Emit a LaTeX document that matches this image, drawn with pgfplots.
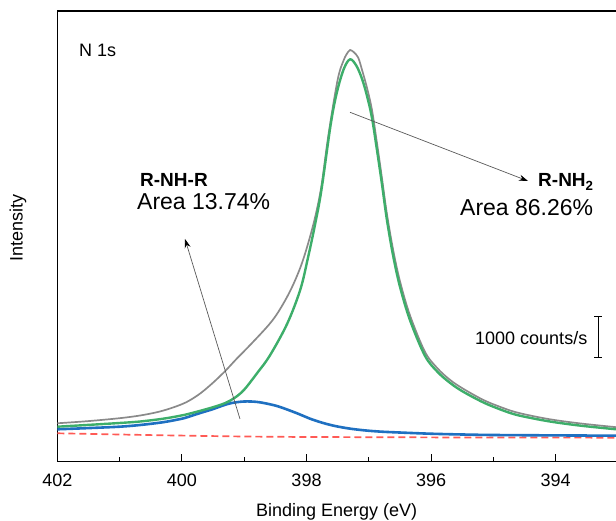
\documentclass[border=0pt]{standalone}
\usepackage{pgfplots}
\pgfplotsset{compat=1.18}
\usepackage{fontspec}
\setmainfont{Liberation Sans}
\usetikzlibrary{arrows.meta}
\definecolor{cgreen}{HTML}{3DAE6A}
\definecolor{cblue}{HTML}{1F70C1}
\definecolor{cgray}{HTML}{8A8A8A}
\definecolor{cred}{HTML}{FF5A55}

\pgfplotstableread{
x y
402.0 28.4
401.5 27.8
401.0 27.2
400.5 26.6
400.0 26.1
399.5 25.6
399.0 25.2
398.5 24.9
398.0 24.7
397.0 24.5
396.0 24.3
395.0 24.2
394.0 24.1
393.0 24.0
}\bg

\pgfplotstableread{
x y
402.0 32.4
401.5 33.6
401.0 35.0
400.67 36.7
400.3 39.5
400.0 43.0
399.85 45.8
399.7 48.8
399.5 52.6
399.35 56.0
399.2 58.7
399.0 60.2
398.8 59.8
398.6 57.6
398.43 54.8
398.16 48.6
397.9 42.0
397.62 36.8
397.35 33.5
397.08 31.4
396.82 30.1
396.55 29.3
396.02 28.0
395.5 27.2
395.0 26.7
394.0 26.3
393.0 26.0
}\blue

\pgfplotstableread{
x y
402.0 35.0
401.5 36.8
401.0 38.7
400.67 40.2
400.3 43.0
400.0 46.3
399.8 49.3
399.5 54.5
399.3 58.8
399.15 64.0
399.0 72.0
398.8 88.0
398.59 106.0
398.31 138.0
398.10 172.0
397.98 203.0
397.86 238.0
397.76 272.0
397.61 338.0
397.51 370.0
397.40 393.0
397.30 402.4
397.20 396.0
397.11 383.0
397.03 366.0
396.95 344.0
396.87 312.0
396.79 278.0
396.71 242.0
396.61 206.0
396.50 175.0
396.34 141.7
396.10 106.0
395.9 90.0
395.7 79.0
395.5 70.5
395.17 59.5
394.9 52.5
394.64 47.0
394.3 42.5
394.0 39.3
393.57 35.8
393.03 32.4
}\green

\pgfplotstableread{
x y
402.0 38.4
401.5 40.6
401.0 43.5
400.67 46.2
400.4 49.5
400.2 53.0
400.0 57.5
399.87 61.5
399.7 68.5
399.5 79.0
399.3 91.0
399.12 103.0
398.9 117.0
398.61 136.5
398.45 150.0
398.26 171.0
398.10 194.0
397.98 217.0
397.86 245.0
397.76 276.0
397.65 326.0
397.50 382.0
397.40 402.0
397.33 410.0
397.30 411.7
397.24 409.5
397.17 404.0
397.11 392.0
397.03 374.0
396.95 352.0
396.87 319.0
396.79 284.0
396.71 248.0
396.61 212.0
396.50 180.5
396.34 146.5
396.10 110.0
395.9 93.5
395.7 82.0
395.5 73.5
395.17 62.0
394.9 55.0
394.64 49.5
394.3 44.8
394.0 41.5
393.57 38.0
393.03 34.5
}\envelope

\begin{document}
\begin{tikzpicture}[x=1pt,y=1pt]
\useasboundingbox (0,0) rectangle (616,521);
\begin{axis}[
  at={(57.3pt,59.3pt)}, anchor=south west,
  scale only axis, width=591.9pt, height=450.7pt,
  x dir=reverse, xmin=392.5, xmax=402, ymin=0, ymax=450.7,
  axis line style={line width=1.1pt},
  xtick={394,396,398,400,402}, minor xtick={395,397,399,401},
  xtick pos=bottom, ytick=\empty,
  tick align=inside, major tick length=8pt, minor tick length=4.5pt,
  every tick/.style={black, line width=1.1pt},
  /pgf/number format/assume math mode=true,
  xticklabel style={font=\fontsize{18}{20}\selectfont, anchor=base, yshift=-25.1pt, inner sep=0pt, /pgf/number format/1000 sep={}},
]
\addplot[cred, line width=1.7pt, dash pattern=on 7pt off 4pt] table {\bg};
\addplot[cgray, line width=1.7pt, smooth, tension=0.55] table {\envelope};
\addplot[cblue, line width=2.6pt, smooth, tension=0.55] table {\blue};
\addplot[cgreen, line width=2.4pt, smooth, tension=0.55] table {\green};
\end{axis}
\node[rotate=90, font=\fontsize{18}{20}\selectfont] at (18,293) {Intensity};
\node[anchor=base, inner sep=0pt, font=\fontsize{18}{20}\selectfont] at (336.7,4.5) {Binding Energy (eV)};
\node[anchor=base west, inner sep=0pt, font=\fontsize{18}{20}\selectfont] at (79,464) {N 1s};
\node[anchor=base west, inner sep=0pt, font=\fontsize{19}{21}\selectfont\bfseries] at (140,334) {R-NH-R};
\node[anchor=base west, inner sep=0pt, font=\fontsize{23}{25}\selectfont] at (137,311) {Area 13.74\%};
\node[anchor=base west, inner sep=0pt, font=\fontsize{19}{21}\selectfont\bfseries] at (538,334) {R-NH\textsubscript{2}};
\node[anchor=base west, inner sep=0pt, font=\fontsize{23}{25}\selectfont] at (460,305) {Area 86.26\%};
\node[anchor=base west, inner sep=0pt, font=\fontsize{18}{20}\selectfont] at (475,176) {1000 counts/s};
\draw[line width=1.5pt] (598.3,163.7) -- (598.3,204.3);
\draw[line width=1.5pt] (594.3,163.7) -- (602.3,163.7);
\draw[line width=1.5pt] (594.3,204.3) -- (602.3,204.3);
\draw[black!65, line width=0.7pt, -{Stealth[length=9pt,width=6pt,black]}] (240,102) -- (185,282);
\draw[black!65, line width=0.7pt, -{Stealth[length=9pt,width=6pt,black]}] (350,408.7) -- (528,340);
\end{tikzpicture}
\end{document}
